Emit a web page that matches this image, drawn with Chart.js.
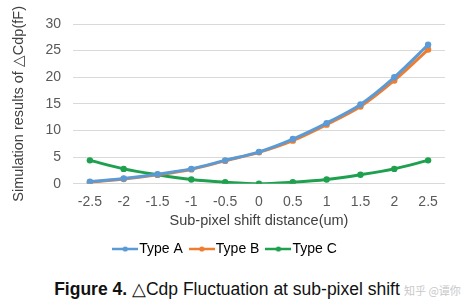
<!DOCTYPE html>
<html>
<head>
<meta charset="utf-8">
<script src="https://cdn.jsdelivr.net/npm/chart.js@4/dist/chart.umd.min.js"></script>
<style>
  body { margin: 0; background: #fff; font-family: "Liberation Sans", Arial, sans-serif; }
  #wrap { position: relative; width: 464px; height: 308px; }
  #box { position: absolute; left: 0; top: 0; width: 464px; height: 266px; }
  #caption { position: absolute; left: 0; width: 464px; top: 279px; text-align: center; font-size: 17.5px; color: #111; padding-right: 10px; box-sizing: border-box; white-space: nowrap; }
  #mark { position: absolute; left: 404px; top: 282px; font-size: 11px; color: #c8c8c8; white-space: nowrap; font-family: "Noto Sans CJK SC", sans-serif; }
</style>
</head>
<body>
<div id="wrap">
  <div id="box"><canvas id="cdpChart"></canvas></div>
  <div id="caption"><b>Figure 4.</b> △Cdp Fluctuation at sub-pixel shift</div>
  <div id="mark">知乎 @谭你</div>
</div>
<script>
const shifts = ["-2.5", "-2", "-1.5", "-1", "-0.5", "0", "0.5", "1", "1.5", "2", "2.5"];
const typeA = [0.4, 1.0, 1.8, 2.8, 4.4, 6.0, 8.4, 11.4, 14.9, 20.0, 26.1];
const typeB = [0.3, 0.9, 1.7, 2.7, 4.3, 5.9, 8.1, 11.1, 14.5, 19.4, 25.2];
const typeC = [4.4, 2.8, 1.7, 0.8, 0.3, 0.0, 0.3, 0.8, 1.7, 2.8, 4.4];
const seriesNames = ["Type A", "Type B", "Type C"];
const colors = ["#5b9bd5", "#ed7d31", "#1fa04f"];

// little line+dot marker for the legend, like excel
function legendIcon(color) {
  const c = document.createElement("canvas");
  c.width = 26; c.height = 8;
  const ctx = c.getContext("2d");
  ctx.strokeStyle = color;
  ctx.lineWidth = 2.5;
  ctx.beginPath(); ctx.moveTo(0, 4); ctx.lineTo(26, 4); ctx.stroke();
  ctx.fillStyle = color;
  ctx.beginPath(); ctx.arc(13, 4, 2.6, 0, Math.PI * 2); ctx.fill();
  return c;
}

const makeSet = (i, values) => ({
  label: seriesNames[i],
  data: values,
  borderColor: colors[i],
  backgroundColor: colors[i],
  borderWidth: 3,
  pointRadius: 3.2,
  pointBorderWidth: 0,
  pointStyle: "circle",
  tension: 0.3,
});

const cdpData = {
  labels: shifts,
  datasets: [makeSet(0, typeA), makeSet(1, typeB), makeSet(2, typeC)],
};

const tickFont = { family: "Liberation Sans, Arial", size: 14 };
const titleFont = { family: "Liberation Sans, Arial", size: 14.5 };

new Chart(document.getElementById("cdpChart"), {
  type: "line",
  data: cdpData,
  options: {
    responsive: true,
    maintainAspectRatio: false,
    animation: false,
    layout: { padding: { left: 10, right: 19, top: 24, bottom: 0 } },
    scales: {
      x: {
        offset: true,
        grid: { display: false },
        border: { display: false },
        ticks: { color: "#595959", font: tickFont, padding: 2 },
        title: { display: true, text: "Sub-pixel shift distance(um)", color: "#404040", font: titleFont, padding: { top: 0, bottom: 0 } },
      },
      y: {
        min: 0, max: 30,
        ticks: { stepSize: 5, color: "#595959", font: tickFont, padding: 12 },
        grid: { color: "#d9d9d9", drawTicks: false },
        border: { display: false },
        title: { display: true, text: "Simulation results of △Cdp(fF)", color: "#404040", font: titleFont, padding: { top: 0, bottom: 6 } },
      },
    },
    plugins: {
      legend: {
        position: "bottom",
        labels: {
          usePointStyle: true,
          color: "#404040",
          font: { family: "Liberation Sans, Arial", size: 14 },
          padding: 12,
          generateLabels: (chart) => chart.data.datasets.map((ds, i) => ({
            text: ds.label,
            pointStyle: legendIcon(colors[i]),
            fillStyle: colors[i],
            strokeStyle: colors[i],
            lineWidth: 0,
            datasetIndex: i,
            hidden: false,
          })),
        },
      },
      tooltip: { enabled: false },
    },
  },
});
</script>
</body>
</html>
